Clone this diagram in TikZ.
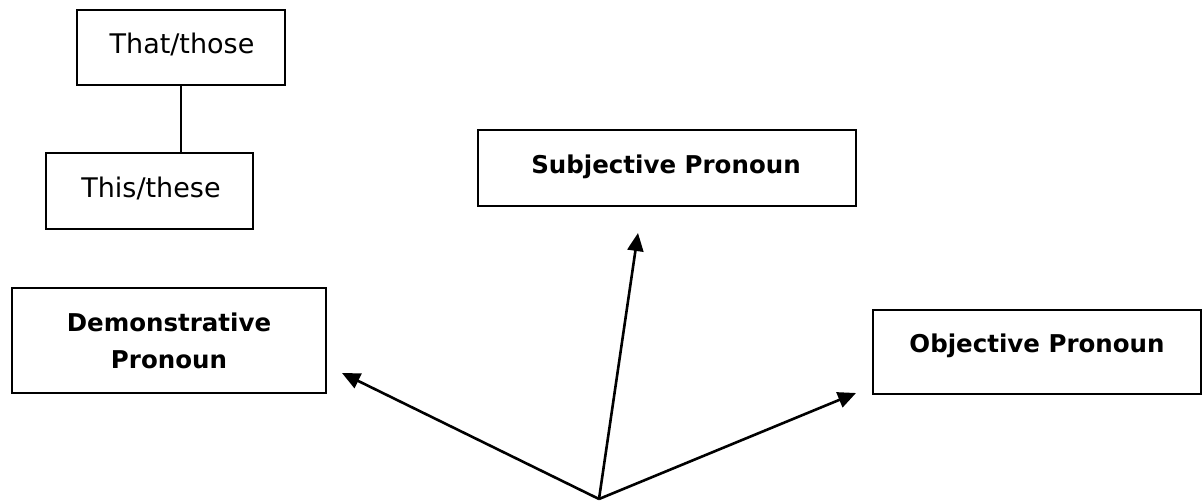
\documentclass[tikz,border=0pt]{standalone}
\usepackage{fontspec}
\setmainfont{DejaVu Sans}
\usetikzlibrary{arrows.meta}
\begin{document}
\begin{tikzpicture}[x=1pt,y=-1pt,
  box/.style={draw, line width=2pt, inner sep=0pt},
  reg/.style={inner sep=0pt, anchor=base, font=\fontsize{27}{34}\selectfont},
  bld/.style={inner sep=0pt, font=\fontsize{24.5}{37}\selectfont\bfseries},
  arr/.style={line width=2.6pt, -{Triangle[length=18pt,width=16pt]}},
  link/.style={line width=2pt}]
\useasboundingbox (0,0) rectangle (1202,501);
% boxes
\node[box, minimum width=208pt, minimum height=75pt] (those) at (181,47.5) {};
\node[box, minimum width=207pt, minimum height=76pt] (these) at (149.5,191) {};
\node[box, minimum width=378pt, minimum height=76pt] (subj) at (667,168) {};
\node[box, minimum width=314pt, minimum height=105pt] (dem) at (169,340.5) {};
\node[box, minimum width=328pt, minimum height=84pt] (obj) at (1036.5,352) {};
% texts
\node[reg] (thosetxt) at (182,53) {That/those};
\node[reg] (thesetxt) at (151,197) {This/these};
\node[bld, anchor=base] (subjtxt) at (666,173) {Subjective Pronoun};
\node[bld, anchor=base] (objtxt) at (1037,352) {Objective Pronoun};
\node[bld, anchor=north, align=center] (demtxt) at (169,313) {Demonstrative\\Pronoun};
% connector
\draw[link] (those.south) -- (those.south |- these.north);
% arrows
\coordinate (o) at (599,499);
\coordinate (td) at (342,373);
\coordinate (ts) at (638,233);
\coordinate (to) at (856,393);
\draw[arr] (o) -- (td);
\draw[arr] (o) -- (ts);
\draw[arr] (o) -- (to);
\end{tikzpicture}
\end{document}
